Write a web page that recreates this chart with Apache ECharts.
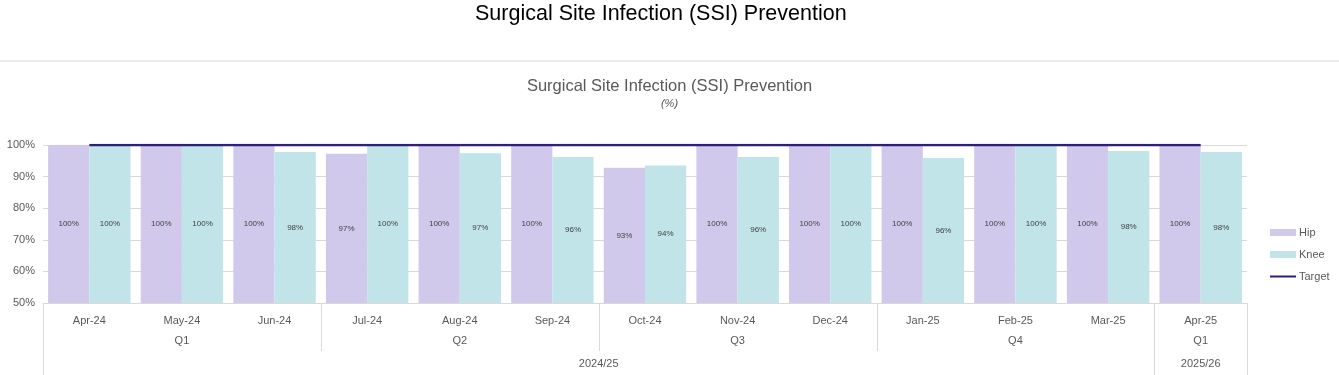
<!DOCTYPE html>
<html>
<head>
<meta charset="utf-8">
<script src="https://cdn.jsdelivr.net/npm/echarts@6/dist/echarts.min.js"></script>
<style>
  html, body { margin: 0; padding: 0; background: #fff; }
  #chart { width: 1339px; height: 375px; }
</style>
</head>
<body>
<div id="chart"></div>
<script>
// chart data
const months = ['Apr-24', 'May-24', 'Jun-24', 'Jul-24', 'Aug-24', 'Sep-24', 'Oct-24',
  'Nov-24', 'Dec-24', 'Jan-25', 'Feb-25', 'Mar-25', 'Apr-25'];
const hipValues = [100, 100, 100, 97.2, 100, 100, 92.8, 100, 100, 100, 100, 100, 100];
const kneeValues = [100, 100, 97.8, 100, 97.4, 96.2, 93.5, 96.2, 100, 95.9, 100, 98.1, 97.8];
const targetValues = [100, 100, 100, 100, 100, 100, 100, 100, 100, 100, 100, 100, 100];
// label rows under the months: [label, number of months]
const quarterGroups = [['Q1', 3], ['Q2', 3], ['Q3', 3], ['Q4', 3], ['Q1', 1]];
const yearGroups = [['2024/25', 12], ['2025/26', 1]];

const FONT = 'Liberation Sans';
const GRAY_TEXT = '#595959';
const LINE_GRAY = '#d9d9d9';

const chart = echarts.init(document.getElementById('chart'), null, { renderer: 'canvas' });

const barLabel = {
  show: true,
  position: 'inside',
  fontFamily: FONT,
  fontSize: 8,
  color: '#404040',
  formatter: p => Math.round(p.value) + '%'
};

const option = {
  animation: false,
  title: [
    {
      text: 'Surgical Site Infection (SSI) Prevention',
      left: 470,
      top: -2,
      textStyle: { fontFamily: FONT, fontSize: 21.5, fontWeight: 'normal', color: '#000' }
    },
    {
      text: 'Surgical Site Infection (SSI) Prevention',
      subtext: '(%)',
      left: 'center',
      top: 73,
      itemGap: 3,
      textStyle: { fontFamily: FONT, fontSize: 16.5, fontWeight: 'normal', color: GRAY_TEXT },
      subtextStyle: { fontFamily: FONT, fontSize: 11, fontStyle: 'italic', color: GRAY_TEXT }
    }
  ],
  legend: {
    orient: 'vertical',
    left: 1264,
    top: 222,
    itemWidth: 26,
    itemHeight: 7,
    itemGap: 11,
    textStyle: { fontFamily: FONT, fontSize: 11, color: GRAY_TEXT, padding: [0, 0, 0, -2] },
    data: [
      { name: 'Hip', icon: 'rect' },
      { name: 'Knee', icon: 'rect' },
      { name: 'Target', itemStyle: { opacity: 0 } }
    ]
  },
  grid: { left: 43, right: 92, top: 145, bottom: 72 },
  xAxis: {
    type: 'category',
    data: months,
    axisLine: { lineStyle: { color: LINE_GRAY } },
    axisTick: { show: false },
    axisLabel: { fontFamily: FONT, fontSize: 11, color: GRAY_TEXT, margin: 12, interval: 0 }
  },
  yAxis: {
    type: 'value',
    min: 50,
    max: 100,
    interval: 10,
    axisLine: { show: false },
    axisTick: { show: false },
    splitLine: { lineStyle: { color: LINE_GRAY } },
    axisLabel: { fontFamily: FONT, fontSize: 11, color: GRAY_TEXT, margin: 8, formatter: '{value}%' }
  },
  series: [
    {
      name: 'Hip',
      type: 'bar',
      data: hipValues,
      barGap: '0%',
      barCategoryGap: '11%',
      itemStyle: { color: '#d1c9ec' },
      label: barLabel
    },
    {
      name: 'Knee',
      type: 'bar',
      data: kneeValues,
      itemStyle: { color: '#c1e4e9' },
      label: barLabel
    },
    {
      name: 'Target',
      type: 'line',
      data: targetValues,
      symbol: 'none',
      z: 5,
      lineStyle: { color: '#2e1f7c', width: 2.5 },
      itemStyle: { color: '#2e1f7c' }
    }
  ]
};

chart.setOption(option);

// build the grouped axis rows (quarters, years) from the category scale
function drawGroupRows() {
  const c0 = chart.convertToPixel({ xAxisIndex: 0 }, months[0]);
  const c1 = chart.convertToPixel({ xAxisIndex: 0 }, months[1]);
  const band = c1 - c0;
  const edge = i => c0 - band / 2 + i * band;
  const axisY = chart.convertToPixel({ yAxisIndex: 0 }, 50);
  const elements = [];

  // rule under the page title
  elements.push({
    type: 'line', shape: { x1: 0, y1: 61, x2: 1339, y2: 61 },
    style: { stroke: LINE_GRAY, lineWidth: 1 }
  });

  const text = (x, y, t) => ({
    type: 'text', x: x, y: y,
    style: { text: t, fill: GRAY_TEXT, font: '11px ' + FONT, align: 'center', verticalAlign: 'middle' }
  });
  const vline = (x, y2) => ({
    type: 'line', shape: { x1: Math.round(x) + 0.5, y1: axisY, x2: Math.round(x) + 0.5, y2: y2 },
    style: { stroke: LINE_GRAY, lineWidth: 1 }
  });

  // year boundaries, full height
  let start = 0;
  elements.push(vline(edge(0), 375));
  yearGroups.forEach(([label, span]) => {
    elements.push(text((edge(start) + edge(start + span)) / 2, 364, label));
    start += span;
    elements.push(vline(edge(start), 375));
  });

  // quarter boundaries
  start = 0;
  quarterGroups.forEach(([label, span]) => {
    elements.push(text((edge(start) + edge(start + span)) / 2, 341, label));
    start += span;
    elements.push(vline(edge(start), 351));
  });

  chart.setOption({ graphic: { elements: elements } });
}

drawGroupRows();
</script>
</body>
</html>
